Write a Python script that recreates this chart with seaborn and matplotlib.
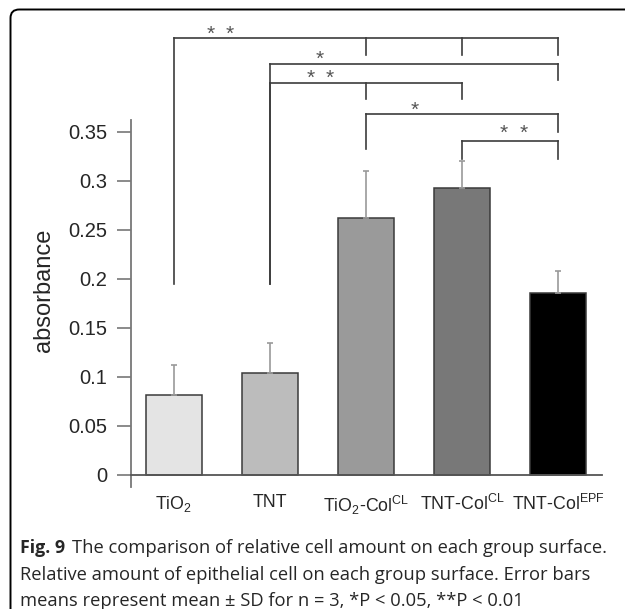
import matplotlib
matplotlib.use("Agg")
import matplotlib.pyplot as plt
import seaborn as sns
import pandas as pd
from matplotlib.patches import FancyBboxPatch

# data
groups = ["TiO2", "TNT", "TiO2-ColCL", "TNT-ColCL", "TNT-ColEPF"]
tick_labels = [r"TiO$_2$", "TNT", r"TiO$_2$-Col$^{\rm CL}$",
               r"TNT-Col$^{\rm CL}$", r"TNT-Col$^{\rm EPF}$"]
absorbance = [0.082, 0.104, 0.262, 0.293, 0.186]
sd = [0.030, 0.031, 0.048, 0.027, 0.022]
bar_colors = ["#e4e4e4", "#bcbcbc", "#9a9a9a", "#787878", "#000000"]

# significance brackets: bar positions, bracket level, lower end of each drop
bracket_x = [[0, 2, 3, 4], [1, 4], [1, 2, 3], [2, 4], [3, 4]]
bracket_y = [0.446, 0.419, 0.400, 0.368, 0.341]
bracket_ends = [[0.195, 0.429, 0.429, 0.429], [0.195, 0.403], [0.195, 0.384, 0.384],
                [0.333, 0.350], [0.322, 0.322]]
# asterisks above each bracket (x of each star, y)
star_x = [[0.38, 0.58], [1.52], [1.42, 1.625], [2.51], [3.43, 3.64]]
star_y = [0.450, 0.4246, 0.4045, 0.3725, 0.349]

df = pd.DataFrame({"group": groups, "absorbance": absorbance})

sns.set_style("white")
plt.rcParams["font.family"] = ["Liberation Sans", "DejaVu Sans"]
plt.rcParams["mathtext.fontset"] = "custom"
plt.rcParams["mathtext.rm"] = "Liberation Sans"

fig = plt.figure(figsize=(6.25, 6.09), dpi=100)
ax = fig.add_axes([131 / 625, (609 - 486.8) / 609, 471 / 625, 452.8 / 609])

sns.barplot(data=df, x="group", y="absorbance", hue="group", palette=bar_colors,
            width=0.58, edgecolor="#3a3a3a", linewidth=1.1, legend=False, ax=ax,
            errorbar=None)
ax.errorbar(range(len(groups)), absorbance, yerr=[[0] * len(sd), sd], fmt="none",
            ecolor="#999999", elinewidth=1.2, capsize=2.5, capthick=1.2)

ax.set_xlim(-0.448, 4.458)
ax.set_ylim(-0.0122, 0.45)
ax.set_yticks([0, 0.05, 0.1, 0.15, 0.2, 0.25, 0.3, 0.35])
ax.set_yticklabels(["0", "0.05", "0.1", "0.15", "0.2", "0.25", "0.3", "0.35"])
ax.set_xticks(range(len(groups)))
ax.set_xticklabels(tick_labels)
ax.tick_params(axis="x", length=0, pad=14, labelsize=12.8)
ax.tick_params(axis="y", left=True, length=10, width=1.2, color="#777777",
               pad=7, direction="out", labelsize=14.5)
ax.set_xlabel("")
ax.set_ylabel("absorbance", fontsize=17)
ax.yaxis.set_label_coords(-76 / 471, (486.8 - 290) / 452.8)

for s in ["top", "right"]:
    ax.spines[s].set_visible(False)
ax.spines["left"].set_bounds(-0.0122, 0.362)
ax.spines["left"].set_color("#777777")
ax.spines["left"].set_linewidth(1.3)
ax.spines["bottom"].set_position(("data", 0))
ax.spines["bottom"].set_color("#555555")
ax.spines["bottom"].set_linewidth(1.3)

for xs, level, ends, sxs, sy in zip(bracket_x, bracket_y, bracket_ends, star_x, star_y):
    ax.plot([xs[0], xs[-1]], [level, level], color="#3c3c3c", lw=1.2,
            clip_on=False, solid_capstyle="projecting")
    for x, e in zip(xs, ends):
        ax.plot([x, x], [level, e], color="#3c3c3c", lw=1.2, clip_on=False,
                solid_capstyle="projecting")
    for sx in sxs:
        ax.text(sx, sy, "*", ha="center", va="center", fontsize=15,
                color="#555555", clip_on=False)

# rounded frame of the figure panel
frame = FancyBboxPatch((10.5 / 625, -0.1), 1.2, 1.1 - 9.5 / 609,
                       boxstyle="round,pad=0,rounding_size=0.014",
                       transform=fig.transFigure, fill=False, ec="black", lw=1.4,
                       clip_on=False)
fig.patches.append(frame)

cap_font = ["Open Sans", "DejaVu Sans"]
fig.text(20 / 625, 1 - 548 / 609, "Fig. 9", fontsize=12.8, fontweight="bold",
         family=cap_font, va="center")
fig.text(72 / 625, 1 - 548 / 609,
         "The comparison of relative cell amount on each group surface.",
         fontsize=13.2, family=cap_font, va="center")
fig.text(20 / 625, 1 - 575 / 609,
         "Relative amount of epithelial cell on each group surface. Error bars",
         fontsize=13.2, family=cap_font, va="center")
fig.text(20 / 625, 1 - 601 / 609,
         "means represent mean \u00b1 SD for n = 3, *P < 0.05, **P < 0.01",
         fontsize=13.2, family=cap_font, va="center")

fig.savefig("out.png", dpi=100)
